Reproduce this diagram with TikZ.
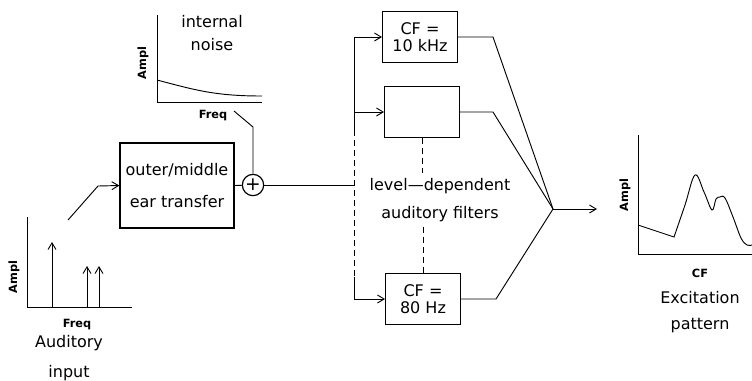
\documentclass[tikz,border=0pt]{standalone}
\usepackage{fontspec}
\setmainfont{DejaVu Sans}
\usetikzlibrary{arrows.meta}
\tikzset{
  block/.style={rectangle,draw,line width=1pt,align=center,inner sep=2pt},
  filt/.style={block,minimum width=56pt,minimum height=38pt,font=\fontsize{12}{13}\selectfont},
  adder/.style={circle,draw,line width=0.9pt,minimum size=16pt,inner sep=0pt,font=\fontsize{14}{14}\selectfont},
  lbl/.style={align=center,font=\fontsize{12}{21}\selectfont},
  axlbl/.style={font=\fontsize{8.5}{10}\selectfont\bfseries},
  dashline/.style={dash pattern=on 4.5pt off 3pt},
  line/.style={-{Straight Barb[length=5pt,width=6pt]}}
}

\begin{document}
\begin{tikzpicture}[x=0.75pt,y=-0.75pt,line width=0.7pt]
\useasboundingbox (0,0) rectangle (752,380);

% auditory input spectrum
\draw (27,217) -- (27,307) -- (132,307);
\foreach \f/\a in {52/242,87/266,99/266}
  \draw[line] (\f,307) -- (\f,\a);
\node[axlbl,rotate=90] at (14,277) {Ampl};
\node[axlbl] at (77,325) {Freq};
\node[lbl,font=\fontsize{12}{22}\selectfont] (inp) at (69,358) {Auditory\\input};
\coordinate (intail) at (68,220);

% outer/middle ear and internal noise
\node[block,minimum width=85.5pt,minimum height=63.75pt,font=\fontsize{12}{24}\selectfont] (ear) at (177,185.5) {outer/middle\\ear transfer};
\draw[line] (intail) -- (98,186) -- (ear.west);

\draw (157,15) -- (157,102) -- (262,102);
\draw (157,80) .. controls (195,90) and (215,96) .. (262,96);
\node[axlbl,rotate=90] at (143,63) {Ampl};
\node[axlbl] at (213,116) {Freq};
\node[lbl,font=\fontsize{12}{17}\selectfont] (noise) at (212,33) {internal\\noise};
\coordinate (noisetap) at (234,111);

\node[adder] (sum) at (253,185) {+};
\draw (ear.east) -- (sum);
\draw (noisetap) -- (253,127) -- (sum.north);

% filter bank
\node[filt] (f1) at (420,37) {CF =\\10 kHz};
\node[filt] (f2) at (422,112) {};
\node[filt] (f3) at (423,299) {CF =\\80 Hz};
\node[lbl] (lvl) at (440,200) {level---dependent\\auditory filters};

\coordinate (split) at (354,185);
\coordinate (solidend) at (354,130);
\coordinate (solidstart) at (354,277);
\draw (sum) -- (split);
\draw (split |- f1.west) -- (solidend);
\draw[dashline] (solidend) -- (solidstart);
\draw (solidstart) -- (split |- f3.west);
\draw[line] (split |- f1.west) -- (f1.west);
\draw[line] (split |- f2.west) -- (f2.west);
\draw[line] (split |- f3.west) -- (f3.west);
\draw[dashline] (f2.south) -- (f2.south |- lvl.north);
\draw[dashline] (f3.north |- lvl.south) -- (f3.north);

% combining outputs
\coordinate (merge) at (553,209);
\coordinate (outhead) at (597,209);
\draw (f1.east) -- ++(35,0) -- (merge);
\draw (f2.east) -- ++(33,0) -- (merge);
\draw (f3.east) -- ++(35,0) -- (merge);
\draw[line] (merge) -- (outhead);

% excitation pattern
\draw (638,135) -- (638,254) -- (752,254);
\draw (638,225) -- (674,237) -- plot[smooth,tension=0.6] coordinates {(674,237) (685,205) (695,175) (704,192) (712,210) (716,199) (720,197) (725,198) (733,217) (741,238) (747,245) (752,245)};
\node[axlbl,rotate=90] at (625,195) {Ampl};
\node[axlbl] at (700,273) {CF};
\node[lbl,font=\fontsize{12}{20}\selectfont] (exc) at (700,312) {Excitation\\pattern};
\end{tikzpicture}
\end{document}
